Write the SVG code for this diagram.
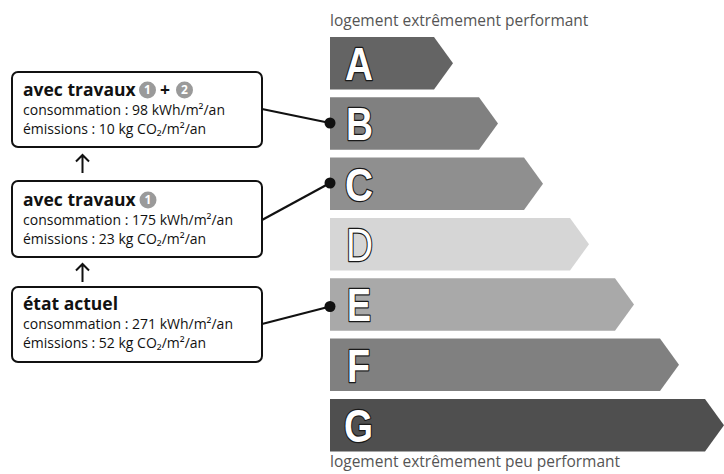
<svg xmlns="http://www.w3.org/2000/svg" width="724" height="474" viewBox="0 0 724 474">
<style>
.box{fill:#fff;stroke:#111;stroke-width:2}
.title{font-family:"Open Sans","DejaVu Sans",sans-serif;font-weight:bold;font-size:17.5px;fill:#111}
.line{font-family:"Open Sans","DejaVu Sans",sans-serif;font-size:14px;fill:#111}
.num{font-family:"Open Sans","DejaVu Sans",sans-serif;font-weight:bold;font-size:12px;fill:#fff;text-anchor:middle}
.badge{fill:#9a9a9a}
.cap{font-family:"Open Sans","DejaVu Sans",sans-serif;font-size:15.5px;fill:#555}
.letter{font-family:"Liberation Sans","DejaVu Sans",sans-serif;font-weight:bold;font-size:46px;fill:#fff;stroke:#1a1a1a;stroke-width:2.5;paint-order:stroke fill;stroke-linejoin:round}
.conn{stroke:#111;stroke-width:2.2;fill:none}
.dot{fill:#111}
.arr{stroke:#111;stroke-width:2;fill:none}
</style>

<text class="cap" x="330" y="26">logement extrêmement performant</text>
<text class="cap" x="330" y="467">logement extrêmement peu performant</text>

<g id="bar-A"><polygon points="330,37 434,37 453,63.25 434,89.5 330,89.5" fill="#646464"/><text class="letter" x="345" y="80" textLength="28" lengthAdjust="spacingAndGlyphs">A</text></g>
<g id="bar-B"><polygon points="330,97.3 479,97.3 498,123.55 479,149.8 330,149.8" fill="#808080"/><text class="letter" x="346" y="140.3" textLength="27" lengthAdjust="spacingAndGlyphs">B</text></g>
<g id="bar-C"><polygon points="330,157.6 524,157.6 543,183.85 524,210.1 330,210.1" fill="#8f8f8f"/><text class="letter" x="345" y="200.6" textLength="28" lengthAdjust="spacingAndGlyphs">C</text></g>
<g id="bar-D"><polygon points="330,218 570,218 589,244.25 570,270.5 330,270.5" fill="#d6d6d6"/><text class="letter" x="346" y="261" textLength="27" lengthAdjust="spacingAndGlyphs" style="font-weight:normal">D</text></g>
<g id="bar-E"><polygon points="330,278.3 615,278.3 634,304.55 615,330.8 330,330.8" fill="#a9a9a9"/><text class="letter" x="347" y="321.3" textLength="24" lengthAdjust="spacingAndGlyphs">E</text></g>
<g id="bar-F"><polygon points="330,338.6 660,338.6 679,364.85 660,391.1 330,391.1" fill="#808080"/><text class="letter" x="347" y="381.6" textLength="23" lengthAdjust="spacingAndGlyphs">F</text></g>
<g id="bar-G"><polygon points="330,399 705,399 724,425.25 705,451.5 330,451.5" fill="#4f4f4f"/><text class="letter" x="344" y="442" textLength="29" lengthAdjust="spacingAndGlyphs">G</text></g>

<g id="box-travaux-1-2">
<rect class="box" x="12" y="72" width="250" height="75" rx="6"/>
<text class="title" x="23" y="96">avec travaux</text>
<circle class="badge" cx="147.5" cy="90" r="8.5"/><text class="num" x="147.5" y="94.3">1</text>
<text class="title" x="160" y="96">+</text>
<circle class="badge" cx="184.5" cy="90" r="8.5"/><text class="num" x="184.5" y="94.3">2</text>
<text class="line" x="23" y="115">consommation : 98 kWh/m²/an</text>
<text class="line" x="23" y="134">émissions : 10 kg CO₂/m²/an</text>
</g>

<g id="box-travaux-1">
<rect class="box" x="12" y="181" width="250" height="76" rx="6"/>
<text class="title" x="23" y="206">avec travaux</text>
<circle class="badge" cx="148" cy="200" r="8.5"/><text class="num" x="148" y="204.3">1</text>
<text class="line" x="23" y="225">consommation : 175 kWh/m²/an</text>
<text class="line" x="23" y="244">émissions : 23 kg CO₂/m²/an</text>
</g>

<g id="box-etat-actuel">
<rect class="box" x="12" y="287" width="250" height="75" rx="6"/>
<text class="title" x="23" y="310">état actuel</text>
<text class="line" x="23" y="329">consommation : 271 kWh/m²/an</text>
<text class="line" x="23" y="348">émissions : 52 kg CO₂/m²/an</text>
</g>

<g id="connectors">
<path class="arr" d="M82.5,173 V155 M76,161.5 L82.5,155 L89,161.5"/>
<path class="arr" d="M82.5,282 V264 M76,270.5 L82.5,264 L89,270.5"/>
<line class="conn" x1="262" y1="109" x2="330" y2="123"/>
<circle class="dot" cx="330" cy="123" r="5.5"/>
<line class="conn" x1="262" y1="220" x2="330" y2="183"/>
<circle class="dot" cx="330" cy="183" r="5.5"/>
<line class="conn" x1="262" y1="324" x2="330" y2="306.5"/>
<circle class="dot" cx="330" cy="306.5" r="5.5"/>
</g>
</svg>
